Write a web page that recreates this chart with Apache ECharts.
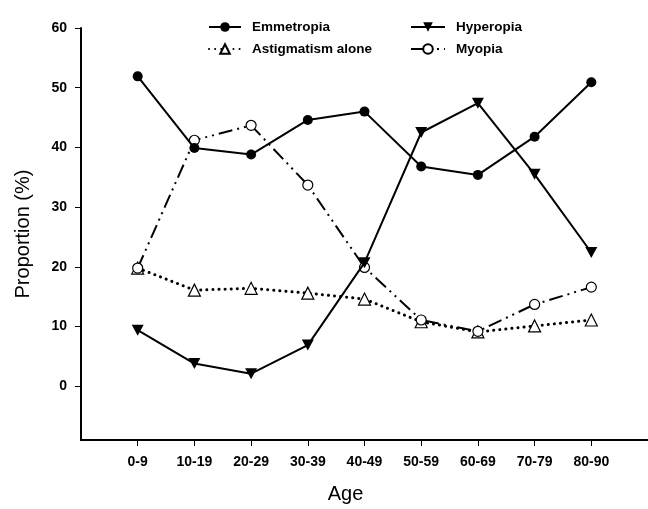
<!DOCTYPE html>
<html><head><meta charset="utf-8">
<script src="https://cdn.jsdelivr.net/npm/echarts@6/dist/echarts.min.js"></script>
<style>html,body{margin:0;padding:0;background:#fff}#c{width:648px;height:509px}</style>
</head><body><div id="c"></div>
<script>
var categories = ['0-9','10-19','20-29','30-39','40-49','50-59','60-69','70-79','80-90'];
var emmetropia = [51.9, 39.9, 38.8, 44.6, 46.0, 36.8, 35.4, 41.8, 50.9];
var hyperopia = [9.4, 3.8, 2.1, 6.9, 20.7, 42.5, 47.4, 35.5, 22.4];
var astigmatism = [19.8, 16.1, 16.4, 15.6, 14.6, 10.8, 9.1, 10.1, 11.1];
var myopia = [19.8, 41.2, 43.7, 33.7, 19.9, 11.1, 9.2, 13.7, 16.6];
var yTicks = [0, 10, 20, 30, 40, 50, 60];

function pts(arr){ return arr.map(function(v,i){ return [i+1, v]; }); }
var catPos = categories.map(function(c,i){ return i+1; });
var FONT = 'Liberation Sans, Arial, sans-serif';
var downTri = 'path://M0,0 L10,0 L5,9 Z';

var chart = echarts.init(document.getElementById('c'), null, {renderer:'canvas'});
chart.setOption({
  animation: false,
  backgroundColor: '#fff',
  grid: {left: 81, top: 28, width: 579, bottom: 65},
  legend: [
    {data: ['Emmetropia', 'Astigmatism alone'], orient: 'vertical', left: 203, top: 15,
     itemWidth: 32, itemHeight: 12, itemGap: 8,
     textStyle: {fontFamily: FONT, fontWeight: 'bold', fontSize: 13.5, color: '#000', padding: [0,0,0,6]}},
    {data: ['Hyperopia', 'Myopia'], orient: 'vertical', left: 405, top: 15,
     itemWidth: 34, itemHeight: 12, itemGap: 8,
     textStyle: {fontFamily: FONT, fontWeight: 'bold', fontSize: 13.5, color: '#000', padding: [0,0,0,6]}}
  ],
  xAxis: {
    type: 'value', min: 0, max: 10,
    name: 'Age', nameLocation: 'middle', nameGap: 44,
    nameTextStyle: {fontFamily: FONT, fontSize: 20, color: '#000', padding: [0, 38, 0, 0]},
    axisLine: {onZero: false, lineStyle: {color: '#000', width: 2}},
    axisTick: {customValues: catPos, length: 6, lineStyle: {color: '#000', width: 1}},
    axisLabel: {customValues: catPos, margin: 15, fontFamily: FONT, fontWeight: 'bold', fontSize: 14, color: '#000',
      formatter: function(v){ return categories[Math.round(v)-1] || ''; }},
    splitLine: {show: false}
  },
  yAxis: {
    type: 'value', min: -9, max: 60,
    name: 'Proportion (%)', nameLocation: 'middle', nameGap: 48,
    nameTextStyle: {fontFamily: FONT, fontSize: 20, color: '#000'},
    axisLine: {show: true, onZero: false, lineStyle: {color: '#000', width: 2}},
    axisTick: {show: true, customValues: yTicks, length: 6, lineStyle: {color: '#000', width: 1}},
    axisLabel: {customValues: yTicks, margin: 14, fontFamily: FONT, fontWeight: 'bold', fontSize: 14, color: '#000'},
    splitLine: {show: false}
  },
  series: [
    {name: 'Emmetropia', type: 'line', data: pts(emmetropia), symbol: 'circle', symbolSize: 10,
     lineStyle: {color: '#000', width: 2}, itemStyle: {color: '#000'}, z: 4},
    {name: 'Astigmatism alone', type: 'line', data: pts(astigmatism), symbol: 'triangle', symbolSize: 12,
     lineStyle: {color: '#000', width: 3, type: [0.1, 6], cap: 'round'},
     itemStyle: {color: '#fff', borderColor: '#000', borderWidth: 1.2}, z: 2},
    {name: 'Hyperopia', type: 'line', data: pts(hyperopia), symbol: downTri, symbolSize: [12, 11],
     lineStyle: {color: '#000', width: 2}, itemStyle: {color: '#000'}, z: 4},
    {name: 'Myopia', type: 'line', data: pts(myopia), symbol: 'circle', symbolSize: 10,
     lineStyle: {color: '#000', width: 2, type: [14, 5, 2, 5, 2, 5]},
     itemStyle: {color: '#fff', borderColor: '#000', borderWidth: 1.2}, z: 3}
  ]
});
</script></body></html>
